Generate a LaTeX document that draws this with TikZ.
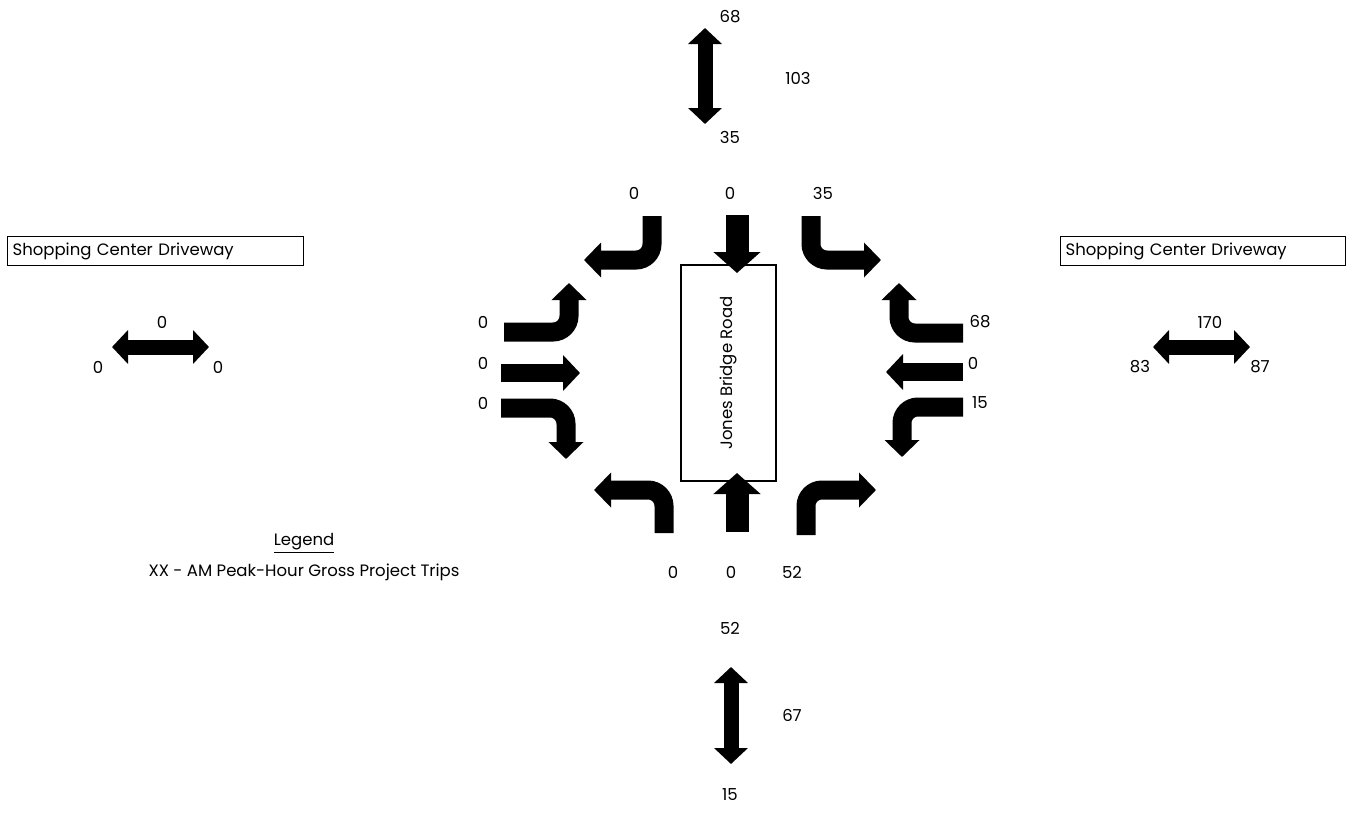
\documentclass[tikz,border=0pt]{standalone}
\usepackage{fontspec}
\setmainfont{Poppins}
\usetikzlibrary{arrows.meta}

\begin{document}
\begin{tikzpicture}[
    x=1pt, y=-1pt,
    every node/.style={font=\fontsize{16.5}{19}\selectfont, inner sep=0pt},
    namebox/.style={draw, line width=1.2pt, minimum height=29pt, inner xsep=5pt, align=left, anchor=north west},
    roadbox/.style={draw, line width=1.2pt, rotate=90, minimum width=216pt, minimum height=95pt},
    turnarrow/.style={line width=19pt, rounded corners=16pt, -{Triangle[width=34pt, length=17pt]}},
    thruarrow/.style={line width=18pt, -{Triangle[width=35pt, length=17pt]}},
    mainarrow/.style={line width=23pt, -{Triangle[width=46pt, length=21pt]}},
    twoway/.style={line width=15pt, {Triangle[width=33pt, length=16pt]}-{Triangle[width=33pt, length=16pt]}}
]
    \useasboundingbox (0,0) rectangle (1347,814);

    % Street names
    \node[namebox, text width=286pt] (leftdrive) at (7,236) {Shopping Center Driveway};
    \node[namebox, text width=275pt] (rightdrive) at (1060,236) {Shopping Center Driveway};
    \node[roadbox] (road) at (728.5,373) {Jones Bridge Road};

    % Southbound approach
    \draw[turnarrow] (652,216) -- (652,260) -- (584,260);
    \draw[mainarrow] (737,215) -- (737,273);
    \draw[turnarrow] (811,216) -- (811,260) -- (881,260);
    \node (sbl) at (634,193) {0};
    \node (sbt) at (730,193) {0};
    \node (sbr) at (823,193) {35};

    % Westbound approach
    \draw[turnarrow] (963,333) -- (899,333) -- (899,283);
    \draw[thruarrow] (963,372) -- (886,372);
    \draw[turnarrow] (963,407) -- (902,407) -- (902,457);
    \node (wbr) at (980,322) {68};
    \node (wbt) at (973,363) {0};
    \node (wbl) at (980,403) {15};

    % Northbound approach
    \draw[turnarrow] (664,533) -- (664,490) -- (594,490);
    \draw[mainarrow] (737,532) -- (737,473);
    \draw[turnarrow] (806,535) -- (806,490) -- (876,490);
    \node (nbl) at (673,572) {0};
    \node (nbt) at (731,572) {0};
    \node (nbr) at (792,572) {52};

    % Eastbound approach
    \draw[turnarrow] (504,332) -- (569,332) -- (569,283);
    \draw[thruarrow] (501,373) -- (580,373);
    \draw[turnarrow] (501,408) -- (566,408) -- (566,459);
    \node (ebl) at (483,322) {0};
    \node (ebt) at (483,363) {0};
    \node (ebr) at (483,403) {0};

    % Two-way volumes
    \draw[twoway] (705,28) -- (705,124);
    \node (northin) at (730,17) {68};
    \node (northsum) at (798,78) {103};
    \node (northout) at (730,137) {35};

    \draw[twoway] (731,667) -- (731,764);
    \node (southout) at (730,628) {52};
    \node (southsum) at (792,715) {67};
    \node (southin) at (730,795) {15};

    \draw[twoway] (112,347) -- (209,347);
    \node (westsum) at (162,322) {0};
    \node (westin) at (98,367) {0};
    \node (westout) at (218,367) {0};

    \draw[twoway] (1153,347) -- (1250,347);
    \node (eastsum) at (1210,322) {170};
    \node (eastout) at (1140,367) {83};
    \node (eastin) at (1260,367) {87};

    % Legend
    \node (legendtitle) at (304,543) {\underline{Legend}};
    \node (legendtext) at (304,572) {XX - AM Peak-Hour Gross Project Trips};
\end{tikzpicture}
\end{document}
